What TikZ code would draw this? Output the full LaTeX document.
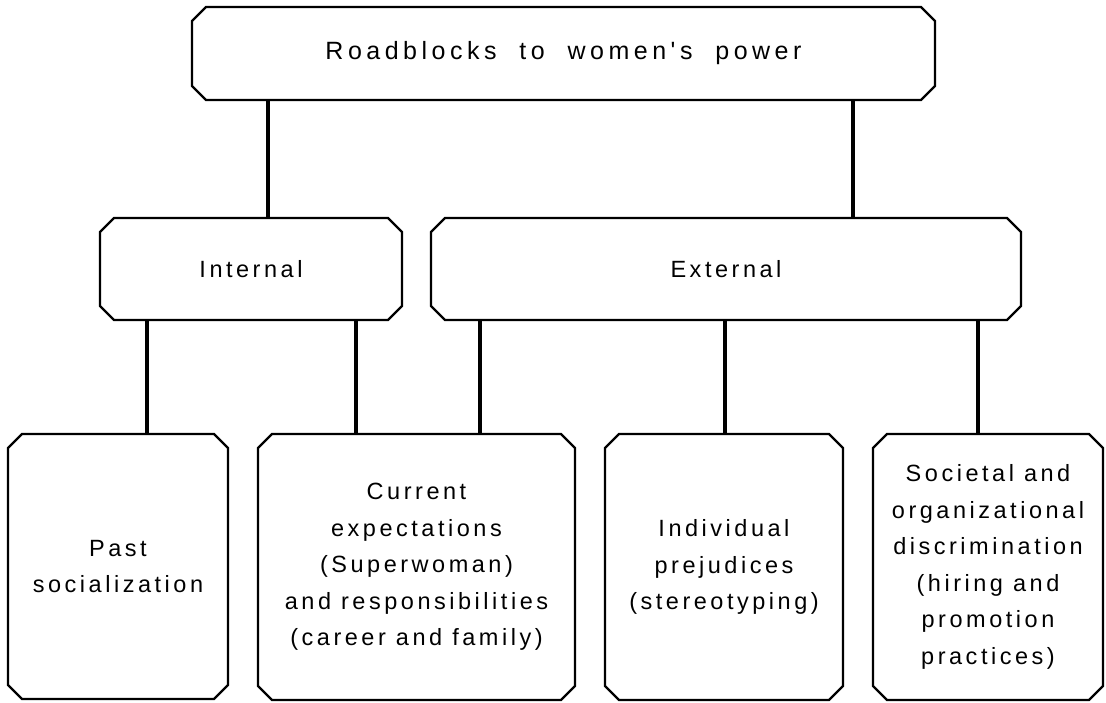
\documentclass[tikz,border=0pt]{standalone}
\usepackage{fontspec}
\setmainfont{Liberation Sans}[LetterSpace=15]
\newfontfamily\widefont{Liberation Sans}[LetterSpace=18,WordSpace=2]
\usetikzlibrary{shapes.misc,positioning}
\tikzset{
  box/.style={draw, line width=2.2pt, chamfered rectangle,
    chamfered rectangle xsep=7pt, chamfered rectangle ysep=7pt,
    inner sep=0pt, align=center,
    font=\fontsize{23.5}{36.5}\selectfont},
  link/.style={line width=4pt},
}
\begin{document}
\begin{tikzpicture}[x=1pt,y=-1pt]
  \useasboundingbox (0,0) rectangle (1106,702);
  % top level
  \node[box, minimum width=743pt, minimum height=93pt, font=\widefont\fontsize{25}{36.5}\selectfont] (road) at (563.5,53.5) {Roadblocks to women's power};
  % second level
  \node[box, minimum width=302pt, minimum height=102pt] (int) at (251,269) {Internal};
  \node[box, minimum width=590pt, minimum height=102pt] (ext) at (726,269) {External};
  % bottom level
  \node[box, minimum width=220pt, minimum height=265pt] (past) at (118,566.5) {Past\\socialization};
  \node[box, minimum width=317pt, minimum height=266pt] (curr) at (416.5,567) {Current\\expectations\\(Superwoman)\\and responsibilities\\(career and family)};
  \node[box, minimum width=238pt, minimum height=266pt] (indiv) at (724,567) {Individual\\prejudices\\(stereotyping)};
  \node[box, minimum width=230pt, minimum height=266pt] (soc) at (988,567) {Societal and\\organizational\\discrimination\\(hiring and\\promotion\\practices)};
  % connectors
  \draw[link] (road.south -| 268,0) -- (int.north -| 268,0);
  \draw[link] (road.south -| 853,0) -- (ext.north -| 853,0);
  \draw[link] (int.south -| 147,0) -- (past.north -| 147,0);
  \draw[link] (int.south -| 356,0) -- (curr.north -| 356,0);
  \draw[link] (ext.south -| 480,0) -- (curr.north -| 480,0);
  \draw[link] (ext.south -| 725,0) -- (indiv.north -| 725,0);
  \draw[link] (ext.south -| 978,0) -- (soc.north -| 978,0);
\end{tikzpicture}
\end{document}
